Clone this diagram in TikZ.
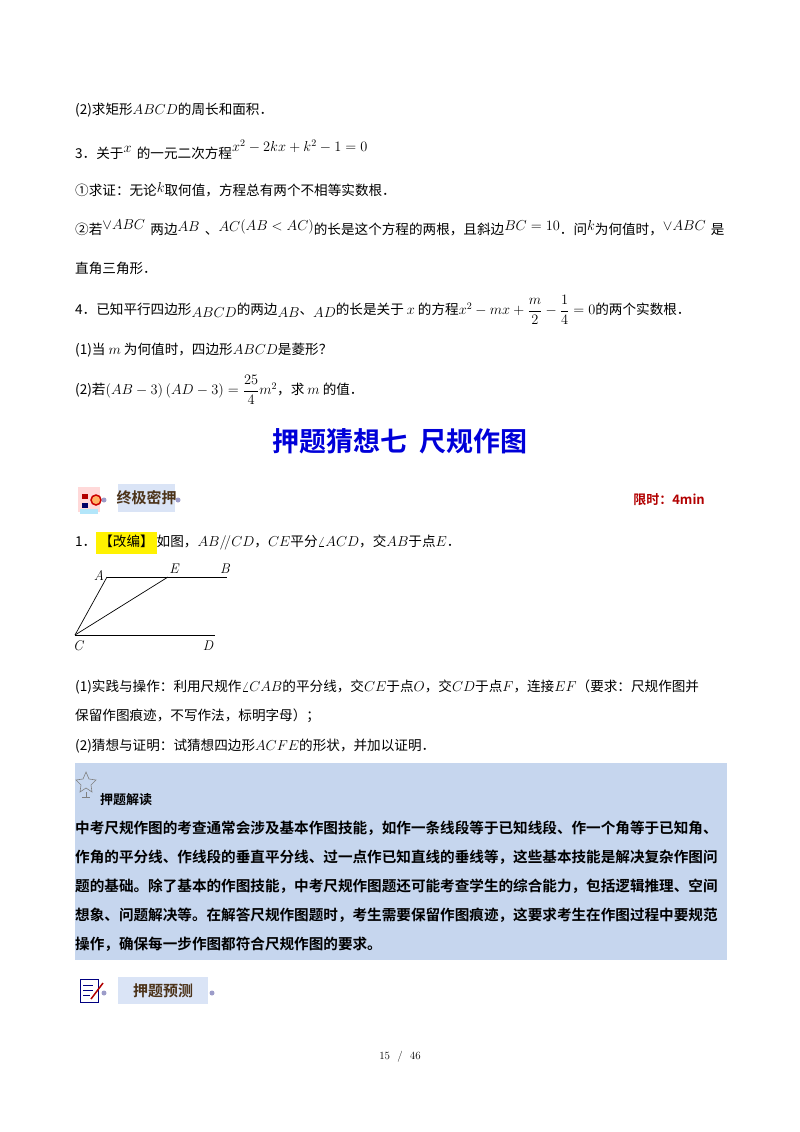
\documentclass[tikz,border=0pt]{standalone}
\usepackage{amsmath}
\usepackage{fontspec}
\newfontfamily\cjk{Noto Sans CJK SC}
\newfontfamily\cjkb{Noto Sans CJK SC Bold}
\definecolor{boxbg}{RGB}{198,214,238}
\definecolor{hdrbg}{RGB}{218,228,246}
\newcommand{\mt}[1]{\ensuremath{#1}}
\begin{document}
\begin{tikzpicture}[x=1pt,y=-1pt,
  txt/.style={anchor=west,inner sep=0pt,font=\cjk\fontsize{13.6}{15}\selectfont},
  btxt/.style={anchor=west,inner sep=0pt,font=\cjkb\fontsize{14.6}{16}\selectfont},
  lbl/.style={inner sep=0pt,font=\fontsize{14}{15}\selectfont\itshape},
  seg/.style={line width=0.7pt}]
\useasboundingbox (0,0) rectangle (800,1132);
\fill[white] (0,0) rectangle (800,1132);
\node[txt] (l1) at (75,110) {(2)求矩形\mt{ABCD}的周长和面积．};
\node[txt] (l2) at (75,150) {3．关于\raisebox{6pt}{\mt{x}}\, 的一元二次方程\raisebox{7pt}{\mt{x^2-2kx+k^2-1=0}}};
\node[txt] (l3) at (75,190) {①求证：无论\raisebox{3pt}{\mt{k}}取何值，方程总有两个不相等实数根．};
\node[txt] (l4) at (75,228) {②若\raisebox{5pt}{\mt{\vee ABC}}\, 两边\raisebox{3pt}{\mt{AB}}\, 、\raisebox{3pt}{\mt{AC}}\raisebox{4pt}{\mt{\left(AB<AC\right)}}的长是这个方程的两根，且斜边\raisebox{4pt}{\mt{BC=10}}．问\raisebox{4pt}{\mt{k}}为何值时，\raisebox{4pt}{\mt{\vee ABC}}\, 是};
\node[txt] (l5) at (75,268) {直角三角形．};
\node[txt] (l6) at (75,310) {4．已知平行四边形\raisebox{-3pt}{\mt{ABCD}}的两边\raisebox{-3pt}{\mt{AB}}、\raisebox{-3pt}{\mt{AD}}的长是关于 \mt{x} 的方程\mt{x^2-mx+\dfrac{m}{2}-\dfrac{1}{4}=0}的两个实数根．};
\node[txt] (l7) at (75,350) {(1)当 \mt{m} 为何值时，四边形\mt{ABCD}是菱形？};
\node[txt] (l8) at (75,390) {(2)若\mt{\left(AB-3\right)\left(AD-3\right)=\dfrac{25}{4}m^2}，求 \mt{m} 的值．};
\node[inner sep=0pt,font=\cjkb\fontsize{27}{30}\selectfont,text=blue!85!black] (title) at (400,441) {押题猜想七\ \ 尺规作图};
% header 1
\fill[red!15] (78,487) rectangle (100,512);
\fill[red!70!black] (82,494) rectangle (88,499);
\fill[blue!40!black] (82,503) rectangle (88,508);
\draw[red!80!black,fill=orange!60,line width=1.5pt] (96,500) circle (5);
\fill[cyan!30] (80,509) rectangle (98,514);
\fill[blue!30!gray!60] (104,500) circle (2.5);
\fill[hdrbg] (118,484) rectangle (175,512);
\node[inner sep=0pt,font=\cjkb\fontsize{15}{16}\selectfont,text=brown!40!black] (h1) at (146.5,498) {终极密押};
\fill[blue!30!gray!60] (178,500) circle (2.5);
\node[anchor=east,inner sep=0pt,font=\cjkb\fontsize{13}{14}\selectfont,text=red!70!black] (time) at (705,500) {限时：4min};
\node[txt] (q1) at (75,543) {1．\colorbox{yellow}{\strut【改编】}如图，\mt{AB/\!/CD}，\mt{CE}平分\mt{\angle ACD}，交\mt{AB}于点\mt{E}．};
% figure
\coordinate (A) at (107,577); \coordinate (E) at (168,577); \coordinate (B) at (227,577);
\coordinate (C) at (75,635); \coordinate (D) at (215,635);
\draw[seg] (A)--(B); \draw[seg] (C)--(D); \draw[seg] (C)--(A); \draw[seg] (C)--(E);
\node[lbl] (lA) at (99,575) {A}; \node[lbl] (lE) at (174,569) {E}; \node[lbl] (lB) at (225,569) {B};
\node[lbl] (lC) at (78,646) {C}; \node[lbl] (lD) at (208,646) {D};
\node[txt] (p1) at (75,687) {(1)实践与操作：利用尺规作\mt{\angle CAB}的平分线，交\mt{CE}于点\mt{O}，交\mt{CD}于点\mt{F}，连接\mt{EF}（要求：尺规作图并};
\node[txt] (p2) at (75,716) {保留作图痕迹，不写作法，标明字母）；};
\node[txt] (p3) at (75,746) {(2)猜想与证明：试猜想四边形\mt{ACFE}的形状，并加以证明．};
% box
\fill[boxbg] (75,763) rectangle (727,960);
\draw[gray,line width=0.6pt] (86,772) -- (89,779) -- (96,780) -- (91,785) -- (92,792) -- (86,788) -- (80,792) -- (81,785) -- (76,780) -- (83,779) -- cycle;
\draw[gray] (86,792)--(86,797) (82,797)--(90,797);
\node[btxt,font=\cjkb\fontsize{13}{14}\selectfont] (bt) at (100,800) {押题解读};
\node[btxt] (b1) at (75,828) {中考尺规作图的考查通常会涉及基本作图技能，如作一条线段等于已知线段、作一个角等于已知角、};
\node[btxt] (b2) at (75,857) {作角的平分线、作线段的垂直平分线、过一点作已知直线的垂线等，这些基本技能是解决复杂作图问};
\node[btxt] (b3) at (75,886) {题的基础。除了基本的作图技能，中考尺规作图题还可能考查学生的综合能力，包括逻辑推理、空间};
\node[btxt] (b4) at (75,915) {想象、问题解决等。在解答尺规作图题时，考生需要保留作图痕迹，这要求考生在作图过程中要规范};
\node[btxt] (b5) at (75,944) {操作，确保每一步作图都符合尺规作图的要求。};
% header 2
\draw[blue!50!black,line width=1pt,fill=white] (80,979) rectangle (98,1002);
\draw[blue!50!black] (83,985)--(93,985) (83,990)--(93,990) (83,995)--(90,995);
\draw[red!70!black,line width=1.5pt] (91,999)--(103,983);
\fill[blue!30!gray!60] (104,993) circle (2.5);
\fill[hdrbg] (118,977) rectangle (208,1004);
\node[inner sep=0pt,font=\cjkb\fontsize{15}{16}\selectfont,text=brown!40!black] (h2) at (163,991) {押题预测};
\fill[blue!30!gray!60] (212,993) circle (2.5);
\node[inner sep=0pt,font=\fontsize{11}{12}\selectfont] (pg) at (400,1057) {15\ \ /\ \ 46};
\end{tikzpicture}
\end{document}
